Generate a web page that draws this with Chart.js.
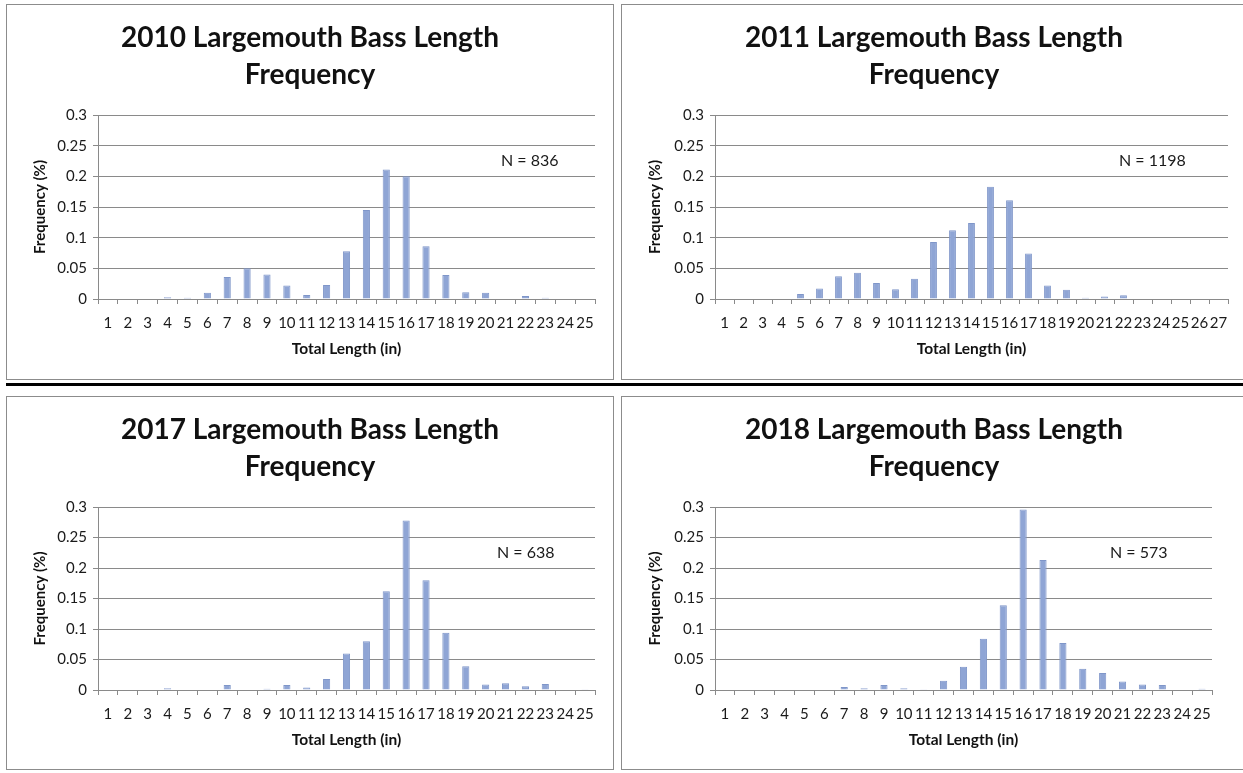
<!DOCTYPE html>
<html>
<head>
<meta charset="utf-8">
<script src="https://cdn.jsdelivr.net/npm/chart.js@4.4.1/dist/chart.umd.min.js"></script>
<style>
  html, body { margin: 0; padding: 0; background: #fff; }
  body { width: 1243px; height: 773px; position: relative; overflow: hidden; }
  .panel { position: absolute; border: 1px solid #8c8c8c; box-sizing: border-box; background: #fff; }
  .panel canvas { position: absolute; left: 0; top: 0; }
  #sep { position: absolute; left: 6px; top: 383px; width: 1237px; height: 3px; background: #000; }
</style>
</head>
<body>
<div class="panel" style="left:6px;top:4px;width:608px;height:376px;"><canvas id="c2010"></canvas></div>
<div class="panel" style="left:621px;top:4px;width:626px;height:376px;"><canvas id="c2011"></canvas></div>
<div id="sep"></div>
<div class="panel" style="left:6px;top:396px;width:608px;height:374px;"><canvas id="c2017"></canvas></div>
<div class="panel" style="left:621px;top:396px;width:626px;height:374px;"><canvas id="c2018"></canvas></div>
<script>
// length classes (in)
var lengths25 = ['1','2','3','4','5','6','7','8','9','10','11','12','13','14','15','16','17','18','19','20','21','22','23','24','25'];
var lengths27 = lengths25.concat(['26','27']);

// frequency per length class
var freq2010 = [0, 0, 0, 0.003, 0.002, 0.01, 0.036, 0.05, 0.04, 0.022, 0.0065, 0.023, 0.078, 0.145, 0.211, 0.2, 0.086, 0.039, 0.011, 0.01, 0.001, 0.005, 0.002, 0, 0];
var freq2011 = [0, 0, 0, 0, 0.008, 0.017, 0.037, 0.043, 0.026, 0.016, 0.033, 0.093, 0.112, 0.124, 0.183, 0.161, 0.074, 0.022, 0.015, 0.002, 0.004, 0.006, 0, 0.001, 0, 0, 0];
var freq2017 = [0, 0, 0, 0.003, 0.001, 0, 0.008, 0.001, 0.002, 0.008, 0.004, 0.018, 0.06, 0.08, 0.162, 0.278, 0.18, 0.094, 0.039, 0.009, 0.011, 0.006, 0.01, 0.001, 0.0005];
var freq2018 = [0, 0, 0, 0, 0, 0.001, 0.005, 0.003, 0.008, 0.003, 0.0005, 0.015, 0.038, 0.084, 0.139, 0.296, 0.213, 0.077, 0.035, 0.028, 0.014, 0.009, 0.008, 0, 0.002];

var yTicks = [0, 0.05, 0.1, 0.15, 0.2, 0.25, 0.3];
var sampleSizes = { c2010: 'N = 836', c2011: 'N = 1198', c2017: 'N = 638', c2018: 'N = 573' };

var FONT = 'Lato, "Open Sans", sans-serif';
var GRID = '#8a8a8a';

// two line title, centred on the whole panel
var panelTitle = {
   id: 'panelTitle',
   afterDraw: function(chart, args, opts) {
      var ctx = chart.ctx;
      ctx.save();
      ctx.font = 'bold 28px ' + FONT;
      ctx.fillStyle = '#111';
      ctx.textAlign = 'center';
      ctx.textBaseline = 'middle';
      ctx.fillText(opts.lines[0], chart.width / 2, 33);
      ctx.fillText(opts.lines[1], chart.width / 2, 70);
      ctx.restore();
   }
};

// "N = ..." note, anchored in data units
var nLabelPlugin = {
   id: 'nLabel',
   afterDatasetsDraw: function(chart, args, opts) {
      var ctx = chart.ctx;
      var x = chart.scales.x.getPixelForValue(opts.at);
      var y = chart.scales.y.getPixelForValue(opts.y);
      ctx.save();
      ctx.font = '16px ' + FONT;
      ctx.fillStyle = '#1a1a1a';
      ctx.textAlign = 'left';
      ctx.textBaseline = 'middle';
      ctx.fillText(opts.text, x, y);
      ctx.restore();
   }
};

function makeChart(id, year, labels, values, leftW, rightPad, bottomPad, nAt) {
   var ctx = document.getElementById(id).getContext('2d');
   return new Chart(ctx, {
      type: 'bar',
      data: {
         labels: labels,
         datasets: [
            {
               label: 'Frequency',
               data: values,
               backgroundColor: '#8fa5d5',
               borderColor: '#7f96c9',
               borderWidth: 1,
               barPercentage: 0.36,
               categoryPercentage: 1
            }
         ]
      },
      options: {
         responsive: true,
         maintainAspectRatio: false,
         animation: false,
         layout: { padding: { left: 0, right: rightPad, top: 110, bottom: bottomPad } },
         plugins: {
            legend: { display: false },
            tooltip: { enabled: false },
            title: { display: false },
            panelTitle: { lines: [year + ' Largemouth Bass Length', 'Frequency'] },
            nLabel: { text: sampleSizes[id], at: nAt, y: 0.225 }
         },
         scales: {
            x: {
               grid: { display: true, offset: true, drawOnChartArea: false, drawTicks: true, tickLength: 5, color: GRID },
               border: { display: true, color: GRID },
               ticks: { color: '#1a1a1a', font: { family: FONT, size: 15 }, padding: 10, maxRotation: 0, autoSkip: false },
               title: { display: true, text: 'Total Length (in)', color: '#111', font: { family: FONT, size: 15.5, weight: 'bold' }, padding: { top: 4, bottom: 0 } },
               afterFit: function(scale) { scale.height = 59; }
            },
            y: {
               min: 0,
               max: 0.3,
               afterBuildTicks: function(scale) {
                  scale.ticks = yTicks.map(function(v) { return { value: v }; });
               },
               grid: { color: GRID, tickLength: 5 },
               border: { display: true, color: GRID },
               ticks: {
                  color: '#1a1a1a', font: { family: FONT, size: 15 }, padding: 6,
                  callback: function(v) { return String(Math.round(v * 100) / 100); }
               },
               title: { display: true, text: 'Frequency (%)', color: '#111', font: { family: FONT, size: 15, weight: 'bold' }, padding: { top: 24, bottom: 0 } },
               afterFit: function(scale) { scale.width = leftW; }
            }
         }
      },
      plugins: [panelTitle, nLabelPlugin]
   });
}

makeChart('c2010', '2010', lengths25, freq2010, 91, 18, 21, 19.77);
makeChart('c2011', '2011', lengths27, freq2011, 93, 18, 21, 20.76);
makeChart('c2017', '2017', lengths25, freq2017, 91, 18, 20, 19.57);
makeChart('c2018', '2018', lengths25, freq2018, 93, 34, 20, 19.37);
</script>
</body>
</html>
